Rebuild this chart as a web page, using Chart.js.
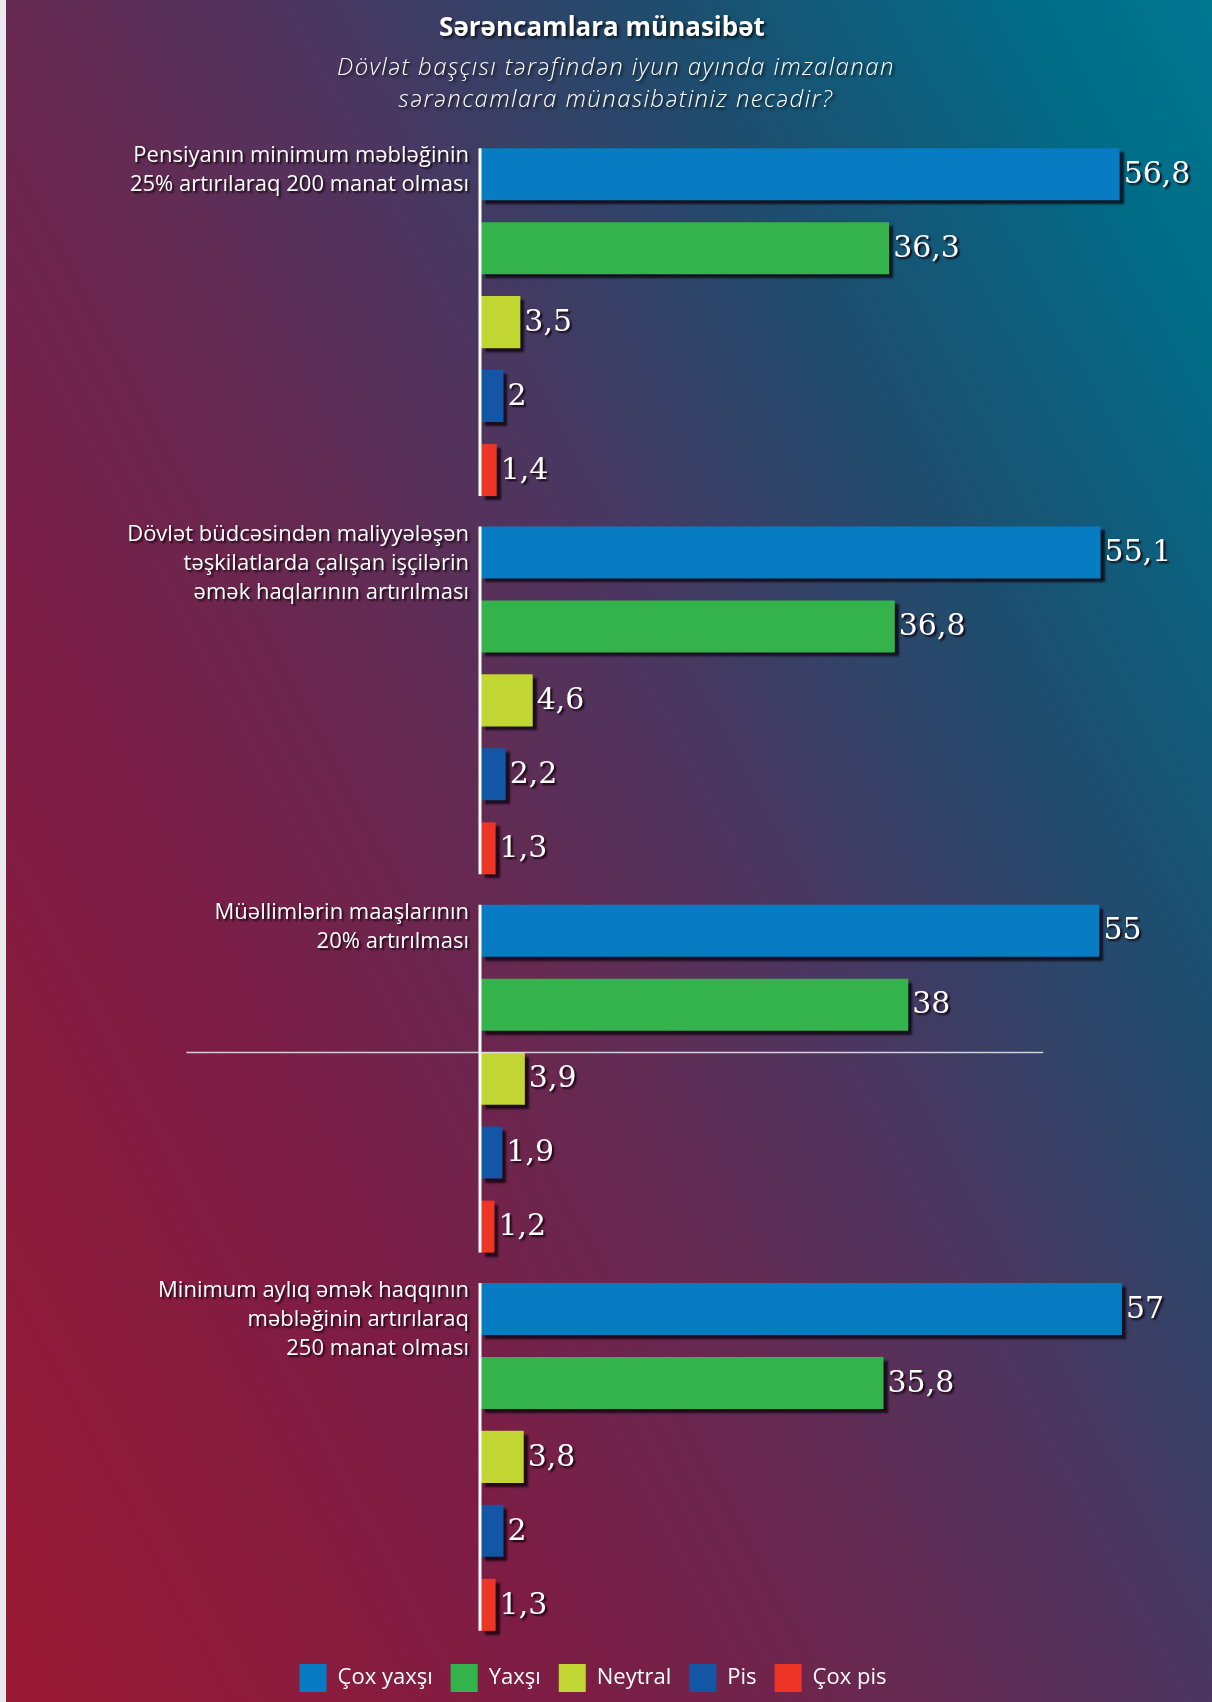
<!DOCTYPE html>
<html>
<head>
<meta charset="utf-8">
<script src="https://cdn.jsdelivr.net/npm/chart.js@4"></script>
<style>
  body { margin: 0; }
  #page {
    position: relative;
    width: 1212px;
    height: 1702px;
    overflow: hidden;
    background:
      linear-gradient(to right, #e9e9ee 0 6px, transparent 6px),
      linear-gradient(62deg, #9b1a34 0%, #7c1d45 28%, #652a52 44%, #4b3660 57%, #1e4d6e 74%, #006e89 92%, #00768f 100%);
  }
  #title, #subtitle {
    position: absolute;
    left: 0;
    width: 1212px;
    text-align: center;
    color: #fff;
    font-family: 'Open Sans', sans-serif;
    text-shadow: 2px 2px 3px rgba(0,0,0,0.75);
  }
  #title { top: 9px; font-size: 26px; font-weight: bold; line-height: 34px; transform: translateX(-4px); }
  #subtitle { top: 50px; font-size: 24px; font-style: italic; font-weight: 300; line-height: 32px; letter-spacing: 1.4px; transform: translateX(10px); }
  #chart_box { position: absolute; left: 0; top: 0; width: 1212px; height: 1702px; }
</style>
</head>
<body>
<div id="page">
  <div id="chart_box"><canvas id="myChart"></canvas></div>
  <div id="title">Sərəncamlara münasibət</div>
  <div id="subtitle">Dövlət başçısı tərəfindən iyun ayında imzalanan<br>sərəncamlara münasibətiniz necədir?</div>
</div>
<script>
const categories = [
    ['Pensiyanın minimum məbləğinin', '25% artırılaraq 200 manat olması'],
    ['Dövlət büdcəsindən maliyyələşən', 'təşkilatlarda çalışan işçilərin', 'əmək haqlarının artırılması'],
    ['Müəllimlərin maaşlarının', '20% artırılması'],
    ['Minimum aylıq əmək haqqının', 'məbləğinin artırılaraq', '250 manat olması']
]

const series_names = ['Çox yaxşı', 'Yaxşı', 'Neytral', 'Pis', 'Çox pis']
const cox_yaxsi = [56.8, 55.1, 55, 57]
const yaxsi     = [36.3, 36.8, 38, 35.8]
const neytral   = [3.5, 4.6, 3.9, 3.8]
const pis       = [2, 2.2, 1.9, 2]
const cox_pis   = [1.4, 1.3, 1.2, 1.3]
const colors = ['#077cc3', '#34b24b', '#c2d633', '#1256a5', '#ee3425']

const label_font = "22px 'Open Sans', sans-serif"
const value_font = "30px 'DejaVu Serif', serif"

function parse_value(v) {
    return String(v).replace('.', ',')
}

// drop shadow under every bar
const bar_shadow = {
    id: 'bar_shadow',
    beforeDatasetDraw(chart) {
        const ctx = chart.ctx
        ctx.save()
        ctx.shadowColor = 'rgba(10,0,10,0.75)'
        ctx.shadowOffsetX = 4
        ctx.shadowOffsetY = 4
        ctx.shadowBlur = 2
    },
    afterDatasetDraw(chart) {
        chart.ctx.restore()
    }
}

const decorations = {
    id: 'decorations',
    afterDatasetsDraw(chart) {
        const ctx = chart.ctx
        const x_scale = chart.scales.x
        const first = chart.getDatasetMeta(0).data
        const last = chart.getDatasetMeta(series_names.length - 1).data

        // white axis piece for each group
        ctx.save()
        ctx.strokeStyle = '#ffffff'
        ctx.lineWidth = 3
        first.forEach((bar, i) => {
            let top = bar.y - bar.height / 2
            let bottom = last[i].y + last[i].height / 2
            let x = x_scale.getPixelForValue(0) - 1
            ctx.beginPath()
            ctx.moveTo(x, top)
            ctx.lineTo(x, bottom)
            ctx.stroke()
        })
        ctx.restore()

        // stray thin line crossing the third group
        let mark = chart.getDatasetMeta(2).data[2]
        let line_y = mark.y - mark.height / 2
        ctx.save()
        ctx.strokeStyle = 'rgba(235,235,240,0.85)'
        ctx.lineWidth = 1.5
        ctx.beginPath()
        ctx.moveTo(x_scale.getPixelForValue(-26.2), line_y)
        ctx.lineTo(x_scale.getPixelForValue(50), line_y)
        ctx.stroke()
        ctx.restore()

        // value labels
        ctx.save()
        ctx.font = value_font
        ctx.fillStyle = '#ffffff'
        ctx.textBaseline = 'middle'
        ctx.textAlign = 'left'
        ctx.shadowColor = 'rgba(20,0,10,0.9)'
        ctx.shadowOffsetX = 2
        ctx.shadowOffsetY = 2
        ctx.shadowBlur = 2
        chart.data.datasets.forEach((ds, d) => {
            chart.getDatasetMeta(d).data.forEach((bar, i) => {
                ctx.fillText(parse_value(ds.data[i]), bar.x + 4, bar.y + 1)
            })
        })
        ctx.restore()

        // category labels at the top of each group
        ctx.save()
        ctx.font = label_font
        ctx.fillStyle = '#ffffff'
        ctx.textBaseline = 'top'
        ctx.textAlign = 'right'
        ctx.shadowColor = 'rgba(20,0,10,0.85)'
        ctx.shadowOffsetX = 2
        ctx.shadowOffsetY = 2
        ctx.shadowBlur = 2
        first.forEach((bar, i) => {
            let top = bar.y - bar.height / 2 - 3
            categories[i].forEach((line, k) => {
                ctx.fillText(line, x_scale.getPixelForValue(0) - 12, top + k * 29)
            })
        })
        ctx.restore()
    }
}

const all_values = [cox_yaxsi, yaxsi, neytral, pis, cox_pis]

let myChart = new Chart(document.getElementById('myChart'),
    {
        type: 'bar',
        data: {
            labels: categories,
            datasets: series_names.map((name, i) => ({
                label: name,
                data: all_values[i],
                backgroundColor: colors[i],
                borderWidth: 0,
                categoryPercentage: 0.978,
                barPercentage: 0.703
            }))
        },
        options: {
            responsive: true,
            maintainAspectRatio: false,
            animation: false,
            indexAxis: 'y',
            layout: { padding: { top: 133, bottom: 0, right: 26, left: 0 } },
            scales: {
                x: {
                    display: false,
                    min: 0,
                    max: 62.7
                },
                y: {
                    grid: { display: false },
                    border: { display: false },
                    ticks: { display: false },
                    afterFit: (scale) => { scale.width = 481 }
                }
            },
            plugins: {
                legend: {
                    position: 'bottom',
                    labels: {
                        color: '#ffffff',
                        font: { family: "'Open Sans', sans-serif", size: 22 },
                        boxWidth: 27,
                        boxHeight: 28,
                        padding: 18
                    }
                },
                tooltip: { enabled: false }
            }
        },
        plugins: [bar_shadow, decorations]
    });
</script>
</body>
</html>
